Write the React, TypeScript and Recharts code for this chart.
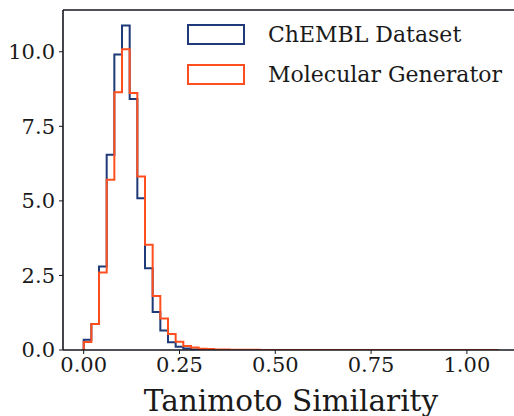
import React from "react";
import {
  ComposedChart,
  Line,
  XAxis,
  YAxis,
  ReferenceLine,
} from "recharts";

// histogram densities, bins of width 0.02 starting at 0
const binWidth = 0.02;

const chemblDensity = [
  0.34, 0.87, 2.8, 6.55, 9.91, 10.88, 8.42, 5.09, 2.74, 1.27, 0.65, 0.26, 0.11,
  0.05, 0.02, 0.012, 0.007, 0.004, 0.003, 0.002, 0.002, 0.001, 0.001, 0.001,
  0.001, 0.001, 0.001, 0.0008, 0.0008, 0.0006, 0.0006, 0.0005, 0.0005, 0.0004,
  0.0004, 0.0003, 0.0003, 0.0003, 0.0002, 0.0002, 0.0002, 0.0002, 0.0001,
  0.0001, 0.0001, 0.0001, 0.0001, 0.0001, 0.0001, 0.0001, 0.0001, 0.0001,
  0.0001, 0.0001,
];

const generatorDensity = [
  0.27, 0.87, 2.6, 5.71, 8.64, 10.08, 8.62, 5.82, 3.53, 1.81, 1.06, 0.54, 0.28,
  0.13, 0.08, 0.04, 0.03, 0.02, 0.015, 0.01, 0.008, 0.006, 0.005, 0.004, 0.003,
  0.003, 0.002, 0.002, 0.002, 0.0015, 0.0015, 0.001, 0.001, 0.001, 0.001,
  0.0008, 0.0008, 0.0006, 0.0006, 0.0005, 0.0005, 0.0004, 0.0004, 0.0003,
  0.0003, 0.0003, 0.0002, 0.0002, 0.0002, 0.0002, 0.0001, 0.0001, 0.0001,
  0.0001,
];

const xTicks = [0, 0.25, 0.5, 0.75, 1.0];
const yTicks = [0, 2.5, 5, 7.5, 10];
const xDomain = [-0.054, 1.136];
const yDomain = [0, 11.4];

const seriesNames = ["ChEMBL Dataset", "Molecular Generator"];
const BLUE = "#1f3a78";
const ORANGE = "#ff4f1f";
const INK = "#16161f";
const FONT = "'DejaVu Serif', serif";

// outline of a step histogram: up from 0, across each bin, back down to 0
function stepOutline(density: number[]) {
  const n = density.length;
  const pts = [{ x: 0, y: 0 }];
  density.forEach((d, i) => pts.push({ x: i * binWidth, y: d }));
  pts.push({ x: n * binWidth, y: density[n - 1] });
  pts.push({ x: n * binWidth, y: 0 });
  return pts;
}

const chemblSteps = stepOutline(chemblDensity);
const generatorSteps = stepOutline(generatorDensity);

function LegendBox() {
  const items = [
    { name: seriesNames[0], color: BLUE },
    { name: seriesNames[1], color: ORANGE },
  ];
  return (
    <div style={{ position: "absolute", left: 187, top: 14 }}>
      {items.map((it) => (
        <div
          key={it.name}
          style={{ display: "flex", alignItems: "center", height: 40 }}
        >
          <div
            style={{
              width: 54,
              height: 17,
              border: `2px solid ${it.color}`,
              boxSizing: "content-box",
            }}
          />
          <span
            style={{
              marginLeft: 23,
              fontFamily: FONT,
              fontSize: 22,
              color: "#1a1a1a",
              whiteSpace: "nowrap",
            }}
          >
            {it.name}
          </span>
        </div>
      ))}
    </div>
  );
}

export default function App() {
  return (
    <div
      style={{
        position: "absolute",
        left: 0,
        top: 0,
        width: 514,
        height: 416,
        overflow: "hidden",
        background: "#fff",
      }}
    >
      <ComposedChart
        width={519}
        height={416}
        margin={{ top: 10, right: 0, left: 0, bottom: 0 }}
      >
        <XAxis
          type="number"
          dataKey="x"
          domain={xDomain}
          ticks={xTicks}
          allowDataOverflow
          tickFormatter={(v: number) => v.toFixed(2)}
          tick={{ fill: "#1a1a1a", fontSize: 21, fontFamily: FONT }}
          axisLine={{ stroke: INK, strokeWidth: 1.6 }}
          tickLine={{ stroke: INK, strokeWidth: 1 }}
          tickSize={4}
          tickMargin={3}
          height={66}
          label={{
            value: "Tanimoto Similarity",
            position: "insideBottom",
            offset: 0,
            dy: -5,
            fill: "#1a1a1a",
            fontSize: 29.5,
            fontFamily: FONT,
          }}
        />
        <YAxis
          type="number"
          domain={yDomain}
          ticks={yTicks}
          allowDataOverflow
          tickFormatter={(v: number) => v.toFixed(1)}
          tick={{ fill: "#1a1a1a", fontSize: 21, fontFamily: FONT }}
          axisLine={{ stroke: INK, strokeWidth: 1.6 }}
          tickLine={{ stroke: INK, strokeWidth: 1 }}
          tickSize={4}
          tickMargin={4}
          width={63}
        />
        <ReferenceLine y={yDomain[1]} stroke={INK} strokeWidth={1.6} />
        <Line
          data={chemblSteps}
          dataKey="y"
          name={seriesNames[0]}
          type="stepAfter"
          stroke={BLUE}
          strokeWidth={2}
          dot={false}
          activeDot={false}
          isAnimationActive={false}
        />
        <Line
          data={generatorSteps}
          dataKey="y"
          name={seriesNames[1]}
          type="stepAfter"
          stroke={ORANGE}
          strokeWidth={2}
          dot={false}
          activeDot={false}
          isAnimationActive={false}
        />
      </ComposedChart>
      <LegendBox />
    </div>
  );
}
